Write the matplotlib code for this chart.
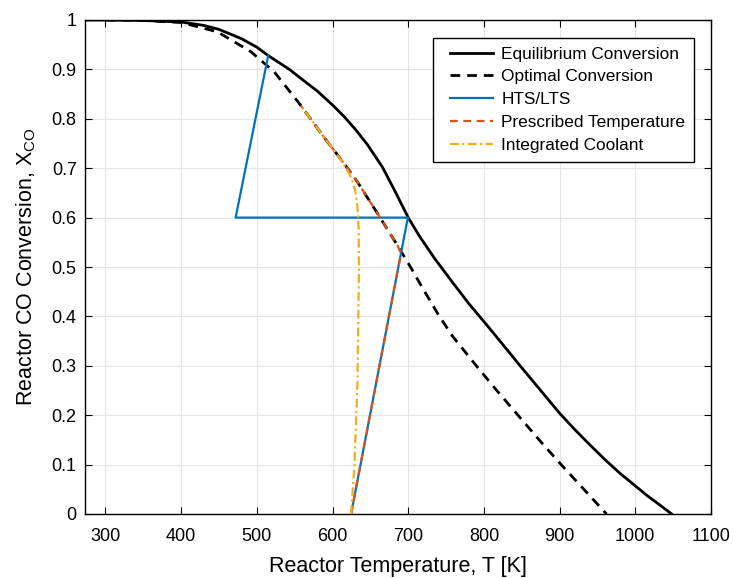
import matplotlib
matplotlib.use("Agg")
import matplotlib.pyplot as plt
from matplotlib.lines import Line2D
from matplotlib.legend_handler import HandlerLine2D

# ---- data ----
T_eq = [273, 300, 350, 400, 430, 450, 480, 500, 515, 543, 558, 580, 600, 615, 630, 646, 666, 683,
        700, 715, 735, 759, 780, 803, 825, 850, 875, 900, 920, 940, 960, 980, 1000, 1015, 1030, 1048]
X_eq = [1.0, 1.0, 0.999, 0.996, 0.989, 0.981, 0.962, 0.945, 0.928, 0.900, 0.882, 0.856, 0.828, 0.805,
        0.779, 0.748, 0.702, 0.652, 0.600, 0.562, 0.517, 0.468, 0.426, 0.384, 0.343, 0.296, 0.250,
        0.204, 0.171, 0.140, 0.110, 0.082, 0.057, 0.038, 0.021, 0.0]

T_opt = [300, 350, 400, 448, 492, 523, 554, 558, 570, 589, 615, 633, 660, 686, 703, 721, 740, 759,
         790, 817, 845, 873, 902, 932, 962]
X_opt = [1.0, 0.999, 0.995, 0.976, 0.936, 0.895, 0.835, 0.827, 0.802, 0.762, 0.710, 0.672, 0.607,
         0.543, 0.500, 0.452, 0.403, 0.359, 0.300, 0.250, 0.200, 0.150, 0.100, 0.050, 0.0]

T_hts = [624.5, 699.5, 472, 515]
X_hts = [0.0, 0.600, 0.600, 0.928]

T_pres = [624.5, 690.5, 686, 660, 633, 615, 589, 570, 558]
X_pres = [0.0, 0.528, 0.543, 0.607, 0.672, 0.710, 0.762, 0.802, 0.827]

T_cool = [624.5, 629, 633, 634.5, 635, 634.5, 633, 630, 625, 617, 605, 589, 570, 558]
X_cool = [0.0, 0.10, 0.27, 0.45, 0.50, 0.58, 0.62, 0.655, 0.680, 0.703, 0.730, 0.762, 0.802, 0.827]

x_ticks = [300, 400, 500, 600, 700, 800, 900, 1000, 1100]
y_ticks = [0, 0.1, 0.2, 0.3, 0.4, 0.5, 0.6, 0.7, 0.8, 0.9, 1]
y_tick_labels = ["0", "0.1", "0.2", "0.3", "0.4", "0.5", "0.6", "0.7", "0.8", "0.9", "1"]

labels = ["Equilibrium Conversion", "Optimal Conversion", "HTS/LTS",
          "Prescribed Temperature", "Integrated Coolant"]

c_blue = "#0072BD"
c_orange = "#D95319"
c_yellow = "#EDB120"

plt.rcParams['font.family'] = ['Liberation Sans', 'DejaVu Sans']
plt.rcParams['mathtext.fontset'] = 'custom'
plt.rcParams['mathtext.rm'] = 'Liberation Sans'
plt.rcParams['mathtext.it'] = 'Liberation Sans'

fig = plt.figure(figsize=(7.33, 5.78), dpi=100)
ax = fig.add_axes([85/733, 1 - 514/578, 626/733, 494/578])

ax.plot(T_eq, X_eq, color="black", lw=2.0, label=labels[0], zorder=3)
ax.plot(T_opt, X_opt, color="black", lw=2.0, ls=(0, (3.5, 2.5)), label=labels[1], zorder=3)
ax.plot(T_hts, X_hts, color=c_blue, lw=1.6, label=labels[2], zorder=4)
ax.plot(T_pres, X_pres, color=c_orange, lw=1.6, ls=(0, (3.5, 2.5)), label=labels[3], zorder=5)
ax.plot(T_cool, X_cool, color=c_yellow, lw=1.6, ls=(0, (4, 1.5, 1, 1.5)), label=labels[4], zorder=6)

ax.set_xlim(273, 1100)
ax.set_ylim(0, 1)
ax.set_xticks(x_ticks)
ax.set_yticks(y_ticks)
ax.set_yticklabels(y_tick_labels)
ax.tick_params(direction="in", top=True, right=True, length=5, width=0.8,
               labelsize=13, colors="black")
ax.tick_params(axis="x", pad=10)
ax.tick_params(axis="y", pad=6)
ax.grid(True, color="#e5e5e5", lw=0.8)
ax.set_axisbelow(True)
for s in ax.spines.values():
    s.set_linewidth(1.0)
    s.set_color("black")

ax.set_xlabel("Reactor Temperature, T [K]", fontsize=15.5, labelpad=8)
ax.set_ylabel(r"Reactor CO Conversion, X$_{\mathrm{CO}}$", fontsize=15.5, labelpad=10)

leg = ax.legend(loc="upper right", bbox_to_anchor=((694-85)/626, (514-38)/494),
                borderaxespad=0, fontsize=12.4, fancybox=False, framealpha=1,
                edgecolor="black", handlelength=3.0, handletextpad=0.47,
                labelspacing=0.45, borderpad=0.5,
                handler_map={Line2D: HandlerLine2D(xpad=0.5)})
leg.get_frame().set_linewidth(1.0)

fig.savefig("out.png", dpi=100, facecolor="white")
